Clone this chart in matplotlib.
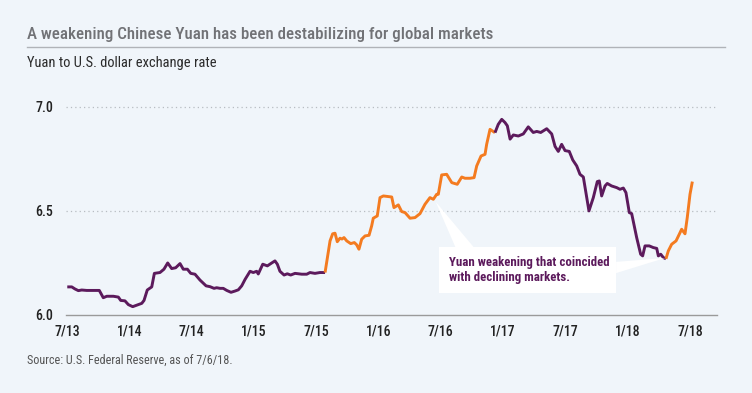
import matplotlib.pyplot as plt
import matplotlib.font_manager as fm
from matplotlib.patches import Polygon, Rectangle

# Yuan per U.S. dollar (decimal year, rate)
years = [2013.502, 2013.538, 2013.564, 2013.591, 2013.618, 2013.658, 2013.711, 2013.759,
         2013.791, 2013.819, 2013.872, 2013.912, 2013.931, 2013.965, 2013.992, 2014.027,
         2014.059, 2014.100, 2014.118, 2014.144, 2014.180, 2014.201, 2014.246, 2014.278,
         2014.308, 2014.340, 2014.372, 2014.407, 2014.433, 2014.466, 2014.493, 2014.527,
         2014.567, 2014.616, 2014.648, 2014.680, 2014.701, 2014.728, 2014.754, 2014.782,
         2014.816, 2014.848, 2014.875, 2014.902, 2014.929, 2014.969, 2014.995, 2015.022,
         2015.035, 2015.071, 2015.108, 2015.143, 2015.169, 2015.188, 2015.209, 2015.242,
         2015.268, 2015.295, 2015.330, 2015.384, 2015.424, 2015.450, 2015.490, 2015.530,
         2015.571, 2015.611, 2015.632, 2015.651, 2015.669, 2015.691, 2015.707, 2015.723,
         2015.745, 2015.777, 2015.806, 2015.825, 2015.843, 2015.865, 2015.892, 2015.924,
         2015.945, 2015.958, 2015.990, 2016.012, 2016.039, 2016.079, 2016.106, 2016.124,
         2016.159, 2016.186, 2016.213, 2016.253, 2016.293, 2016.333, 2016.373, 2016.413,
         2016.440, 2016.467, 2016.480, 2016.507, 2016.547, 2016.588, 2016.632, 2016.668,
         2016.694, 2016.734, 2016.767, 2016.788, 2016.823, 2016.855, 2016.868, 2016.895,
         2016.935, 2016.961, 2016.989, 2017.015, 2017.034, 2017.056, 2017.082, 2017.122,
         2017.162, 2017.202, 2017.242, 2017.270, 2017.302, 2017.350, 2017.390, 2017.417,
         2017.443, 2017.470, 2017.497, 2017.531, 2017.559, 2017.591, 2017.617, 2017.644,
         2017.689, 2017.724, 2017.756, 2017.772, 2017.791, 2017.818, 2017.836, 2017.871,
         2017.912, 2017.938, 2017.965, 2017.986, 2018.013, 2018.032, 2018.072, 2018.104,
         2018.120, 2018.139, 2018.173, 2018.205, 2018.233, 2018.246, 2018.265, 2018.286,
         2018.307, 2018.326, 2018.353, 2018.388, 2018.414, 2018.433, 2018.460, 2018.478,
         2018.500, 2018.519]
rates = [6.135, 6.135, 6.125, 6.117, 6.120, 6.118, 6.118, 6.118,
         6.083, 6.090, 6.090, 6.086, 6.070, 6.068, 6.050, 6.040,
         6.047, 6.056, 6.070, 6.120, 6.135, 6.200, 6.204, 6.220,
         6.250, 6.223, 6.227, 6.247, 6.220, 6.220, 6.200, 6.196,
         6.168, 6.140, 6.136, 6.128, 6.131, 6.128, 6.128, 6.118,
         6.109, 6.115, 6.121, 6.140, 6.171, 6.210, 6.204, 6.210,
         6.197, 6.244, 6.236, 6.250, 6.260, 6.244, 6.210, 6.192,
         6.198, 6.192, 6.200, 6.196, 6.196, 6.204, 6.200, 6.204,
         6.204, 6.356, 6.390, 6.393, 6.352, 6.369, 6.365, 6.372,
         6.356, 6.343, 6.348, 6.337, 6.316, 6.364, 6.380, 6.383,
         6.428, 6.465, 6.476, 6.564, 6.572, 6.569, 6.567, 6.516,
         6.529, 6.497, 6.492, 6.465, 6.468, 6.487, 6.532, 6.564,
         6.556, 6.580, 6.580, 6.673, 6.676, 6.636, 6.628, 6.663,
         6.657, 6.657, 6.660, 6.716, 6.764, 6.772, 6.820, 6.892,
         6.876, 6.916, 6.940, 6.925, 6.909, 6.845, 6.865, 6.860,
         6.870, 6.904, 6.877, 6.882, 6.877, 6.895, 6.870, 6.810,
         6.786, 6.820, 6.790, 6.786, 6.745, 6.716, 6.676, 6.663,
         6.500, 6.564, 6.641, 6.644, 6.572, 6.620, 6.632, 6.620,
         6.612, 6.604, 6.610, 6.588, 6.492, 6.487, 6.372, 6.292,
         6.284, 6.332, 6.332, 6.324, 6.320, 6.284, 6.292, 6.276,
         6.270, 6.308, 6.340, 6.356, 6.388, 6.412, 6.390, 6.468,
         6.580, 6.641]

# periods of yuan weakening that coincided with declining markets
weak_periods = [(2015.571, 2016.935), (2018.307, 2018.519)]

tick_pos = [2013.5, 2014.0, 2014.5, 2015.0, 2015.5, 2016.0, 2016.5,
            2017.0, 2017.5, 2018.0, 2018.5]
tick_labels = ["7/13", "1/14", "7/14", "1/15", "7/15", "1/16", "7/16",
               "1/17", "7/17", "1/18", "7/18"]
y_ticks = [6.0, 6.5, 7.0]

bg = "#f0f5fa"
purple = "#5c1a5c"
orange = "#f47b20"

# narrow face if one is around
names = {f.name for f in fm.fontManager.ttflist}
font = "Roboto"
for cand in ["Liberation Sans Narrow", "Roboto Condensed", "Open Sans Condensed"]:
    if cand in names:
        font = cand
        break
plt.rcParams['font.family'] = [font, 'DejaVu Sans']

fig = plt.figure(figsize=(7.52, 3.93), dpi=100, facecolor=bg)
ax = fig.add_axes([0.0878, 0.1985, 0.8657, 0.5825])
ax.set_facecolor(bg)


def in_weak(x):
    return any(a < x < b for a, b in weak_periods)


# purple for the calm stretches, orange for the weakening ones
edges = sorted({years[0], years[-1]} | {v for p in weak_periods for v in p})
for a, b in zip(edges[:-1], edges[1:]):
    xs = [x for x in years if a <= x <= b]
    ys = [r for x, r in zip(years, rates) if a <= x <= b]
    col = orange if in_weak((a + b) / 2) else purple
    ax.plot(xs, ys, color=col, lw=2.1, solid_joinstyle='round',
            solid_capstyle='butt', zorder=3)

ax.set_xlim(2013.492, 2018.717)
ax.set_ylim(6.0, 7.1)
ax.set_xticks(tick_pos)
ax.set_xticklabels(tick_labels)
ax.set_yticks(y_ticks)
ax.set_yticklabels([f"{v:.1f}" for v in y_ticks])
ax.tick_params(length=0, labelsize=10, labelcolor="#222222")
ax.tick_params(axis='x', pad=7)
ax.tick_params(axis='y', pad=9)
for lab in ax.get_xticklabels() + ax.get_yticklabels():
    lab.set_fontweight("medium")
for s in ["top", "right", "left"]:
    ax.spines[s].set_visible(False)
ax.spines["bottom"].set_color("#9a9a9a")
ax.spines["bottom"].set_linewidth(1.0)
for v in y_ticks[1:]:
    ax.axhline(v, color="#b8bcc2", lw=0.9, ls=(0, (1, 2.5)), zorder=1)

# callout box with two pointers
box = (0.573, 0.096, 0.272, 0.201)
to_axes = ax.transData + ax.transAxes.inverted()
tip1 = to_axes.transform((2016.46, 6.543))
tip2 = to_axes.transform((2018.30, 6.274))
ax.add_patch(Polygon([tip1, (0.598, 0.297), (0.626, 0.297)], closed=True,
                     transform=ax.transAxes, fc="white", ec="none", zorder=5))
ax.add_patch(Polygon([tip2, (0.845, 0.232), (0.845, 0.183)], closed=True,
                     transform=ax.transAxes, fc="white", ec="none", zorder=5))
ax.add_patch(Rectangle(box[:2], box[2], box[3], transform=ax.transAxes,
                       fc="white", ec="none", zorder=5))
note = ax.text(0.588, 0.196, "Yuan weakening that coincided\nwith declining markets.",
               transform=ax.transAxes, ha="left", va="center", color=purple,
               fontsize=10.5, fontweight="bold", linespacing=1.25, zorder=6)

title = fig.text(27 / 752, 1 - 34 / 393,
                 "A weakening Chinese Yuan has been destabilizing for global markets",
                 ha="left", va="center", fontsize=14, color="#717276", fontweight="medium")
fig.add_artist(plt.Line2D([27 / 752, 725 / 752], [1 - 47 / 393] * 2, color="#b0b3b8", lw=1.0))
sub = fig.text(27 / 752, 1 - 63 / 393, "Yuan to U.S. dollar exchange rate",
               ha="left", va="center", fontsize=11, color="#2a2a2a")
src = fig.text(27 / 752, 1 - 360 / 393, "Source: U.S. Federal Reserve, as of 7/6/18.",
               ha="left", va="center", fontsize=9.5, color="#555555")

# size texts to the widths they take in the reference
renderer = fig.canvas.get_renderer()
for t, w in [(title, 470), (sub, 190), (src, 205), (note, 160)]:
    cur = t.get_window_extent(renderer).width
    t.set_fontsize(t.get_fontsize() * w / cur)

fig.savefig("out.png", dpi=100, facecolor=bg)
